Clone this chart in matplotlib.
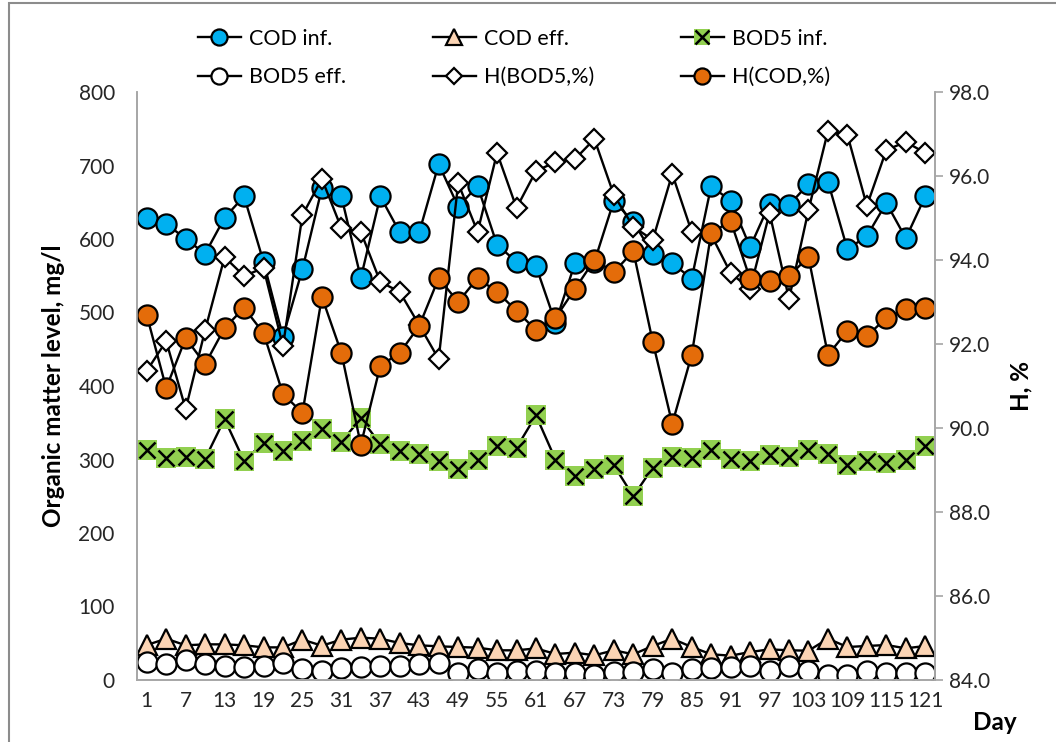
import matplotlib
matplotlib.use("Agg")
import matplotlib.pyplot as plt
from matplotlib.patches import Rectangle

plt.rcParams['font.family'] = ['Lato', 'DejaVu Sans']

days = list(range(1, 122, 3))

cod_inf = [629, 621, 600, 580, 629, 658, 569, 467, 559, 669, 658, 547, 658, 609, 609, 702,
           644, 672, 592, 569, 563, 486, 567, 569, 652, 623, 580, 567, 546, 672, 652, 589,
           648, 646, 675, 678, 586, 604, 649, 601, 658]
cod_eff = [47.6, 56.2, 47.2, 48.5, 48.5, 47.2, 44.4, 44.4, 54.9, 46.7, 54.9, 57.6, 56.2, 50.3,
           47.2, 45.8, 44.9, 44.0, 40.4, 40.4, 43.0, 35.4, 37.2, 33.6, 40.4, 35.0, 46.3, 56.2,
           44.9, 35.0, 33.1, 38.1, 41.7, 40.4, 39.9, 56.2, 44.9, 46.3, 47.6, 43.1, 46.3]
bod5_inf = [313, 302, 304, 301, 355, 298, 323, 312, 325, 342, 324, 356, 321, 312, 307, 298,
            287, 300, 318, 316, 360, 300, 278, 287, 292, 250, 289, 303, 302, 313, 301, 298,
            306, 304, 313, 307, 292, 298, 295, 300, 319]
bod5_eff = [24.9, 21.8, 27.2, 21.8, 19.0, 18.1, 19.5, 23.6, 14.5, 12.7, 15.9, 17.2, 19.5, 19.0,
            21.8, 23.6, 9.9, 14.5, 9.1, 12.7, 12.7, 9.1, 9.1, 6.8, 11.3, 11.3, 14.5, 9.9, 14.5,
            15.9, 17.2, 19.5, 12.7, 19.5, 12.7, 6.8, 6.8, 12.7, 9.1, 9.1, 9.9]
h_bod5 = [91.36, 92.07, 90.45, 92.33, 94.07, 93.62, 93.81, 91.95, 95.07, 95.93, 94.76, 94.67,
          93.48, 93.24, 92.45, 91.64, 95.83, 94.67, 96.55, 95.24, 96.12, 96.33, 96.40, 96.88,
          95.55, 94.79, 94.48, 96.05, 94.67, 94.60, 93.69, 93.31, 95.12, 93.07, 95.19, 97.07,
          96.98, 95.29, 96.62, 96.81, 96.55]
h_cod = [92.69, 90.95, 92.14, 91.52, 92.38, 92.86, 92.26, 90.81, 90.36, 93.12, 91.79, 89.60,
         91.48, 91.79, 92.43, 93.57, 93.00, 93.57, 93.24, 92.79, 92.33, 92.62, 93.31, 94.00,
         93.71, 94.21, 92.05, 90.10, 91.74, 94.64, 94.93, 93.55, 93.50, 93.62, 94.07, 91.74,
         92.31, 92.19, 92.62, 92.83, 92.86]

x = list(range(len(days)))
grey = '#a6a6a6'
txt = '#262626'

fig = plt.figure(figsize=(10.56, 7.42), dpi=100)
ax = fig.add_axes([137 / 1056, 1 - 680 / 742, 798 / 1056, 588 / 742])
ax2 = ax.twinx()

common = dict(color='black', lw=1.7, mec='black', mew=1.6, ms=14.5)
l1, = ax.plot(x, cod_inf, marker='o', mfc='#00b0f0', label='COD inf.', **common)
l2, = ax.plot(x, cod_eff, marker='^', mfc='#fbd4b4', label='COD eff.', **common)
l3, = ax.plot(x, bod5_inf, marker='s', mfc='#92d050', color='black', lw=1.7,
              mec='#92d050', mew=0, ms=14)
l3x, = ax.plot(x, bod5_inf, marker='x', ls='none', mec='black', mew=1.8, ms=12)
l4, = ax.plot(x, bod5_eff, marker='o', mfc='white', label='BOD5 eff.', **common)
l5, = ax2.plot(x, h_bod5, marker='D', mfc='white', color='black', lw=1.7,
               mec='black', mew=1.6, ms=10)
l6, = ax2.plot(x, h_cod, marker='o', mfc='#e46c0a', label='H(COD,%)', **common)

ax.set_xlim(-0.5, len(days) - 0.5)
ax.set_ylim(0, 800)
ax2.set_ylim(84, 98)
ax.set_yticks(range(0, 801, 100))
ax2.set_yticks([84 + 2 * i for i in range(8)])
ax2.set_yticklabels([f'{84 + 2 * i:.1f}' for i in range(8)])
ax.set_xticks(x[::2])
ax.set_xticklabels([str(d) for d in days[::2]])

for a in (ax, ax2):
    a.spines['top'].set_visible(False)
    for s in ('left', 'right', 'bottom'):
        a.spines[s].set_color(grey)
        a.spines[s].set_linewidth(1.2)
ax.tick_params(axis='y', length=0, pad=16, labelsize=15, labelcolor=txt)
ax.tick_params(axis='x', length=0, pad=8, labelsize=15, labelcolor=txt)
ax2.tick_params(axis='y', length=6, width=1.2, color=grey, pad=4, labelsize=15, labelcolor=txt)

ax.set_ylabel('Organic matter level, mg/l', fontsize=17.5, fontweight='bold', labelpad=10)
ax2.set_ylabel('H, %', fontsize=17.5, fontweight='bold', labelpad=14)
fig.text(995 / 1056, 1 - 722 / 742, 'Day', fontsize=17.5, fontweight='bold',
         ha='center', va='center')

handles = [l1, l4, l2, l5, (l3, l3x), l6]
labels = ['COD inf.', 'BOD5 eff.', 'COD eff.', 'H(BOD5,%)', 'BOD5 inf.', 'H(COD,%)']
fig.legend(handles, labels, ncol=3, loc='center', bbox_to_anchor=(514 / 1056, 1 - 58 / 742),
           frameon=False, fontsize=15.5, handlelength=2.0, columnspacing=4.0,
           handletextpad=0.4, labelspacing=0.85, markerscale=0.8)

fig.patches.append(Rectangle((9 / 1056, -0.1), 1.2, 1.1 - 3 / 742, transform=fig.transFigure,
                             fill=False, edgecolor='#8c8c8c', lw=1.5))

fig.savefig('out.png', dpi=100)
